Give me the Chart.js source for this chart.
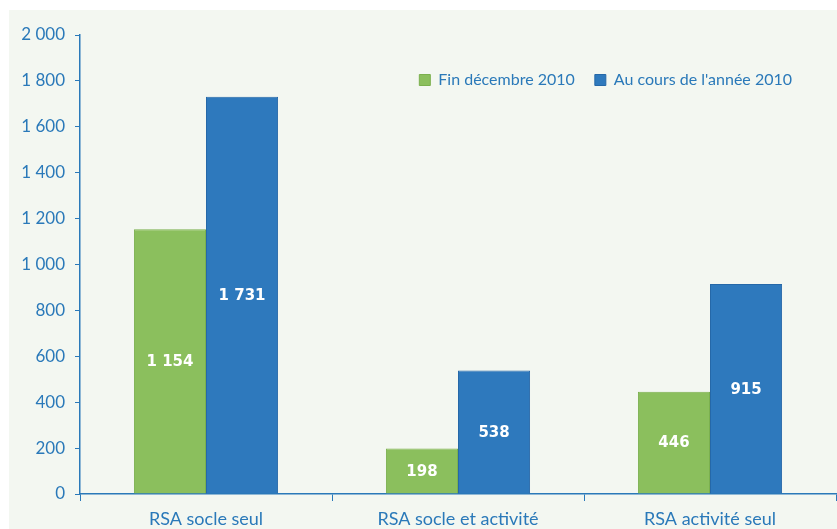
<!DOCTYPE html>
<html><head><meta charset="utf-8">
<script src="https://cdn.jsdelivr.net/npm/chart.js@4/dist/chart.umd.min.js"></script>
<style>html,body{margin:0;padding:0;background:#fff;}#wrap{width:837px;height:529px;}</style>
</head><body><div id="wrap"><canvas id="c" width="837" height="529"></canvas></div>
<script>
const categories = ["RSA socle seul", "RSA socle et activité", "RSA activité seul"];
const seriesNames = ["Fin décembre 2010", "Au cours de l'année 2010"];
const finDecembre = [1154, 198, 446];
const auCoursAnnee = [1731, 538, 915];
const yTicks = [0, 200, 400, 600, 800, 1000, 1200, 1400, 1600, 1800, 2000];

const BLUE_TXT = '#2a79b9';
const fmt = v => String(v).replace(/\B(?=(\d{3})+(?!\d))/g, ' ');

const bgPlugin = {
  id: 'bg',
  beforeDraw(chart) {
    const ctx = chart.ctx;
    ctx.save();
    ctx.fillStyle = '#f3f7f1';
    ctx.fillRect(9, 10, chart.width - 9, chart.height - 10);
    ctx.restore();
  }
};
// move the legend inside the plot area (top right), as in the reference
const legendMove = {
  id: 'legendMove',
  afterLayout(chart) {
    const L = chart.legend;
    if (!L) return;
    const targetCenter = 75;
    const dy = targetCenter - (L.top + L.bottom) / 2;
    const dx = -24;
    L.top += dy; L.bottom += dy; L.left += dx; L.right += dx;
  }
};
const valuePlugin = {
  id: 'vals',
  afterDatasetsDraw(chart) {
    const ctx = chart.ctx;
    ctx.save();
    ctx.fillStyle = '#ffffff';
    ctx.font = 'bold 15px "DejaVu Sans"';
    ctx.textAlign = 'center';
    ctx.textBaseline = 'middle';
    chart.data.datasets.forEach((ds, i) => {
      chart.getDatasetMeta(i).data.forEach((bar, j) => {
        const y = (bar.y + bar.base) / 2;
        ctx.fillText(fmt(ds.data[j]), bar.x, y + 1);
      });
    });
    ctx.restore();
  }
};

new Chart(document.getElementById('c'), {
  type: 'bar',
  data: {
    labels: categories,
    datasets: [
      { label: seriesNames[0], data: finDecembre, backgroundColor: '#8bbf5d', borderColor: '#7bb04e', borderWidth: 1, categoryPercentage: 0.572, barPercentage: 1.0 },
      { label: seriesNames[1], data: auCoursAnnee, backgroundColor: '#2e79bd', borderColor: '#2568a8', borderWidth: 1, categoryPercentage: 0.572, barPercentage: 1.0 }
    ]
  },
  options: {
    responsive: false,
    animation: false,
    layout: { padding: { top: -11, right: 1, bottom: 0, left: 0 } },
    plugins: {
      legend: {
        position: 'top',
        align: 'end',
        labels: {
          boxWidth: 11, boxHeight: 11, color: BLUE_TXT,
          font: { family: 'Lato', size: 16 }, padding: 20
        }
      },
      tooltip: { enabled: false }
    },
    scales: {
      x: {
        offset: true,
        grid: { offset: true, drawOnChartArea: false, drawTicks: true, tickLength: 7, tickColor: '#2a79b9' },
        border: { display: true, color: '#2a79b9', width: 1.5 },
        ticks: { color: BLUE_TXT, font: { family: 'Lato', size: 18 }, padding: 7 },
        afterFit(s) { s.height = 35; }
      },
      y: {
        min: 0, max: 2000,
        afterBuildTicks(s) { s.ticks = yTicks.map(v => ({ value: v })); },
        grid: { drawOnChartArea: false, drawTicks: true, tickLength: 5, tickColor: '#2a79b9' },
        border: { display: true, color: '#2a79b9', width: 1.5 },
        ticks: { color: BLUE_TXT, font: { family: 'Lato', size: 17 }, padding: 10, callback: v => fmt(v) },
        afterFit(s) { s.width = 80; }
      }
    }
  },
  plugins: [bgPlugin, legendMove, valuePlugin]
});
</script></body></html>
